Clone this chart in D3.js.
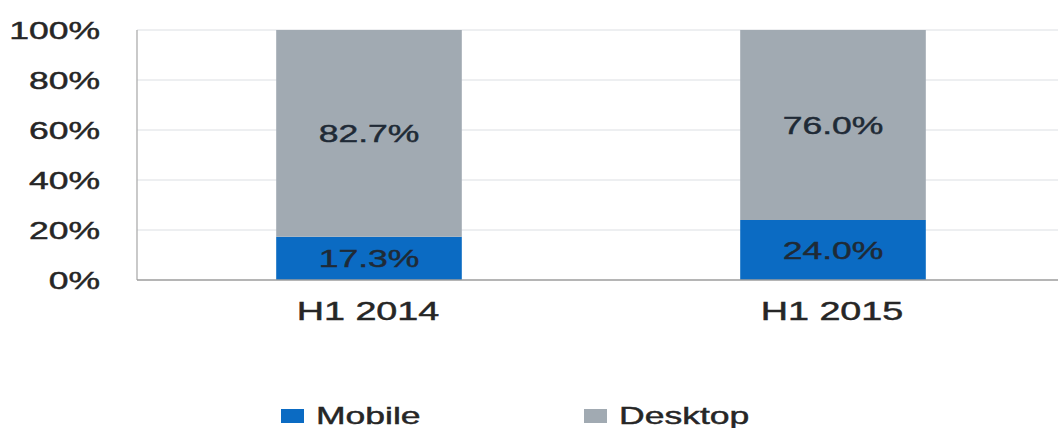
<!DOCTYPE html>
<html>
<head>
<meta charset="utf-8">
<script src="https://cdn.jsdelivr.net/npm/d3@7"></script>
<style>
  html, body { margin: 0; padding: 0; background: #fff; }
  svg { display: block; }
  text { font-family: "Liberation Sans", Arial, sans-serif; fill: #262626; stroke: #262626; stroke-width: 0.45; }
</style>
</head>
<body>
<svg id="chart" width="1058" height="428"></svg>
<script>
// Share of traffic by device, first half of each year
const categories = ["H1 2014", "H1 2015"];
const seriesNames = ["Mobile", "Desktop"];
const mobile = [17.3, 24.0];
const desktop = [82.7, 76.0];
const yTicks = [0, 20, 40, 60, 80, 100];
const colors = ["#0b6bc3", "#a1aab2"];

const W = 1058, H = 428;
const margin = { left: 137, top: 30, bottom: 148 };
const plotW = 928;
const FS = 24, SX = 1.48; // wide lettering: horizontal stretch factor

const svg = d3.select("#chart");

const x = d3.scaleBand()
  .domain(categories)
  .range([margin.left, margin.left + plotW])
  .paddingInner(0.6)
  .paddingOuter(0.3);

const y = d3.scaleLinear()
  .domain([0, 100])
  .range([H - margin.bottom, margin.top]);

// stacked data
const rows = categories.map((c, i) => ({ cat: c, Mobile: mobile[i], Desktop: desktop[i] }));
const stack = d3.stack().keys(seriesNames)(rows);

function wideText(sel, px, py, fs = FS) {
  return sel.attr("x", 0).attr("y", 0)
    .attr("transform", `translate(${px},${py}) scale(${SX},1)`)
    .attr("font-size", fs);
}

// gridlines
svg.append("g")
  .selectAll("line")
  .data(yTicks.filter(t => t > 0))
  .join("line")
  .attr("x1", margin.left).attr("x2", W)
  .attr("y1", d => y(d)).attr("y2", d => y(d))
  .attr("stroke", "#dcdfe3").attr("stroke-width", 1);

// bars
svg.append("g")
  .selectAll("g")
  .data(stack)
  .join("g")
  .attr("fill", (d, i) => colors[i])
  .selectAll("rect")
  .data(d => d)
  .join("rect")
  .attr("x", d => x(d.data.cat))
  .attr("width", x.bandwidth())
  .attr("y", d => y(d[1]))
  .attr("height", d => y(d[0]) - y(d[1]));

// value labels inside segments
stack.forEach(layer => {
  layer.forEach(d => {
    const cx = x(d.data.cat) + x.bandwidth() / 2;
    const cy = (y(d[0]) + y(d[1])) / 2;
    wideText(svg.append("text"), cx, cy)
      .attr("text-anchor", "middle")
      .attr("dy", "0.36em")
      .style("fill", "#1f2a36").style("stroke", "#1f2a36")
      .text(d3.format(".1f")(d.data[layer.key]) + "%");
  });
});

// axes lines
svg.append("line")
  .attr("x1", margin.left).attr("x2", margin.left)
  .attr("y1", y(100)).attr("y2", y(0))
  .attr("stroke", "#a6a6a6").attr("stroke-width", 1.2);
svg.append("line")
  .attr("x1", margin.left).attr("x2", W)
  .attr("y1", y(0)).attr("y2", y(0))
  .attr("stroke", "#9c9c9c").attr("stroke-width", 1.4);

// y tick labels
yTicks.forEach(t => {
  wideText(svg.append("text"), 100, y(t))
    .attr("text-anchor", "end")
    .attr("dy", "0.36em")
    .text(t + "%");
});

// category labels
categories.forEach(c => {
  wideText(svg.append("text"), x(c) + x.bandwidth() / 2 - 1, 320, 25.5)
    .attr("text-anchor", "middle")
    .text(c);
});

// legend
const legendX = [281, 584];
seriesNames.forEach((s, i) => {
  svg.append("rect")
    .attr("x", legendX[i]).attr("y", 409)
    .attr("width", 23).attr("height", 14)
    .attr("fill", colors[i]);
  wideText(svg.append("text"), legendX[i] + 35, 424)
    .text(s);
});
</script>
</body>
</html>
